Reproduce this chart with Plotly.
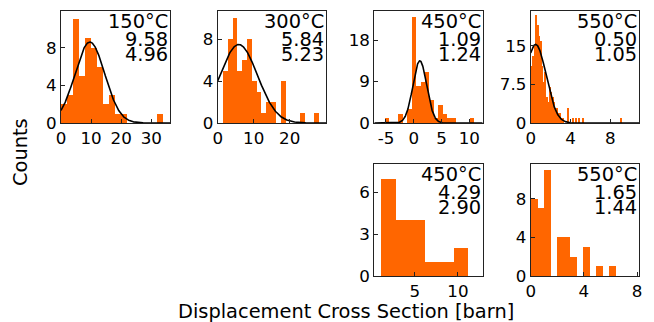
import numpy as np
import plotly.graph_objects as go

# ---------------- data ----------------
temps = ["150°C", "300°C", "450°C", "550°C", "450°C", "550°C"]
mean_txt = ["9.58", "5.84", "1.09", "0.50", "4.29", "1.65"]
std_txt = ["4.96", "5.23", "1.24", "1.05", "2.90", "1.44"]

# histogram bins: first edge, bin width, counts
p1_start, p1_width = 0.0, 2.0
p1_counts = [2, 3, 11, 5, 9, 8, 6, 2, 3, 1, 1, 0, 0, 0, 0, 0, 1]

p2_start, p2_width = 1.38, 1.338
p2_counts = [5, 8, 10, 5, 6, 8, 4, 3, 1, 2, 2, 0, 4, 0, 0, 0, 1, 0, 0, 1]

p3_start, p3_width = -5.15, 0.802
p3_counts = [1, 0, 0, 2, 0, 3, 23, 8, 9, 11, 5, 1, 4, 2, 1, 1, 0, 0, 0, 1]

p4_start, p4_width = 0.0, 0.153
p4_counts = [11, 13, 15, 21, 19, 17, 16, 11, 8, 10, 5, 4, 7, 6, 5, 4, 3, 3, 2, 2,
             1, 1, 0, 0, 3, 0, 0, 1, 0, 1, 0, 1, 0, 0, 1, 0, 0, 0, 0, 0,
             0, 0, 0, 0, 0, 0, 0, 0, 0, 0, 0, 0, 0, 0, 0, 0, 0, 0, 0, 1]

p5_start, p5_width = 1.18, 1.677
p5_counts = [7, 4, 4, 1, 1, 2]

p6_start, p6_width = 0.0, 0.49
p6_counts = [8, 7, 11, 0, 4, 4, 2, 0, 3, 0, 1, 0, 1]

# gaussian fits (top row only)
fit_mu = [9.58, 5.84, 1.09, 0.50]
fit_sigma = [4.96, 5.23, 1.24, 1.05]
fit_amp = [8.6, 7.5, 13.5, 15.3]

# axes
x_ranges = [[0, 36.2], [0, 30.1], [-7.1, 12.4], [0, 10.9], [0.32, 12.86], [0, 8.15]]
y_ranges = [[0, 11.9], [0, 10.7], [0, 24.3], [0, 21.8], [0, 8.05], [0, 11.6]]
x_ticks = [[0, 10, 20, 30], [0, 10, 20], [-5, 0, 5, 10], [0, 4, 8], [0, 5, 10], [0, 4, 8]]
y_ticks = [[0, 4, 8], [0, 4, 8], [0, 9, 18], [0, 7.5, 15], [0, 3, 6], [0, 4, 8]]

hists = [(p1_start, p1_width, p1_counts), (p2_start, p2_width, p2_counts),
         (p3_start, p3_width, p3_counts), (p4_start, p4_width, p4_counts),
         (p5_start, p5_width, p5_counts), (p6_start, p6_width, p6_counts)]

# ---------------- layout geometry ----------------
W, H = 654, 322
col_px = [(61, 170), (217.7, 326), (374.3, 482.7), (530.7, 639)]
row_px = [(11, 123), (164, 276)]
panel_pos = [(0, 0), (1, 0), (2, 0), (3, 0), (2, 1), (3, 1)]

ORANGE = "#FF6600"
FONT = "DejaVu Sans"
TICK_SIZE = 16.7
TXT_SIZE = 19.4

fig = go.Figure()
layout = dict(
    template="none",
    width=W, height=H,
    margin=dict(l=0, r=0, t=0, b=0, pad=0),
    paper_bgcolor="white", plot_bgcolor="white",
    showlegend=False, bargap=0,
    font=dict(family=FONT, color="black"),
)
annotations = []

for i, ((c, r), (start, width, counts)) in enumerate(zip(panel_pos, hists)):
    n = "" if i == 0 else str(i + 1)
    xa, ya = "x" + n, "y" + n
    counts = np.array(counts, dtype=float)
    centers = start + width * (np.arange(len(counts)) + 0.5)
    fig.add_trace(go.Bar(x=centers, y=counts, width=width, marker=dict(color=ORANGE, line=dict(width=0)),
                         xaxis=xa, yaxis=ya, hoverinfo="skip"))
    if i < 4:
        xs = np.linspace(x_ranges[i][0], x_ranges[i][1], 500)
        ys = fit_amp[i] * np.exp(-(xs - fit_mu[i]) ** 2 / (2 * fit_sigma[i] ** 2))
        fig.add_trace(go.Scatter(x=xs, y=ys, mode="lines", line=dict(color="black", width=1.6),
                                 xaxis=xa, yaxis=ya, hoverinfo="skip"))
    x0, x1 = col_px[c]
    y0, y1 = row_px[r]
    xt = x_ticks[i]
    yt = y_ticks[i]
    common = dict(
        ticks="inside", ticklen=4, tickwidth=1, tickcolor="#222",
        showline=True, linecolor="#222", linewidth=1, mirror=True,
        showgrid=False, zeroline=False, automargin=False,
        tickfont=dict(size=TICK_SIZE, family=FONT, color="black"),
        fixedrange=True,
    )
    layout["xaxis" + n] = dict(
        domain=[x0 / W, x1 / W], range=x_ranges[i], anchor=ya,
        tickvals=xt, ticktext=[str(v) for v in xt], **common)
    layout["yaxis" + n] = dict(
        domain=[1 - y1 / H, 1 - y0 / H], range=y_ranges[i], anchor=xa,
        tickvals=yt, ticktext=[("%g" % v) for v in yt], **common)
    hpx = y1 - y0
    for txt, off in zip([temps[i], mean_txt[i], std_txt[i]], [10.0, 28.8, 43.8]):
        annotations.append(dict(
            text=txt, xref=xa + " domain", yref=ya + " domain", x=1, y=1 - off / hpx,
            xanchor="right", yanchor="middle", showarrow=False,
            font=dict(size=TXT_SIZE, family=FONT, color="black"),
        ))

annotations.append(dict(text="Counts", xref="paper", yref="paper", x=20 / W, y=1 - 152 / H,
                        xanchor="center", yanchor="middle", textangle=-90, showarrow=False,
                        font=dict(size=TXT_SIZE, family=FONT, color="black")))
annotations.append(dict(text="Displacement Cross Section [barn]", xref="paper", yref="paper",
                        x=345.5 / W, y=1 - 311 / H, xanchor="center", yanchor="middle",
                        showarrow=False, font=dict(size=TXT_SIZE, family=FONT, color="black")))
layout["annotations"] = annotations
fig.update_layout(**layout)
fig.write_html("out.html")
